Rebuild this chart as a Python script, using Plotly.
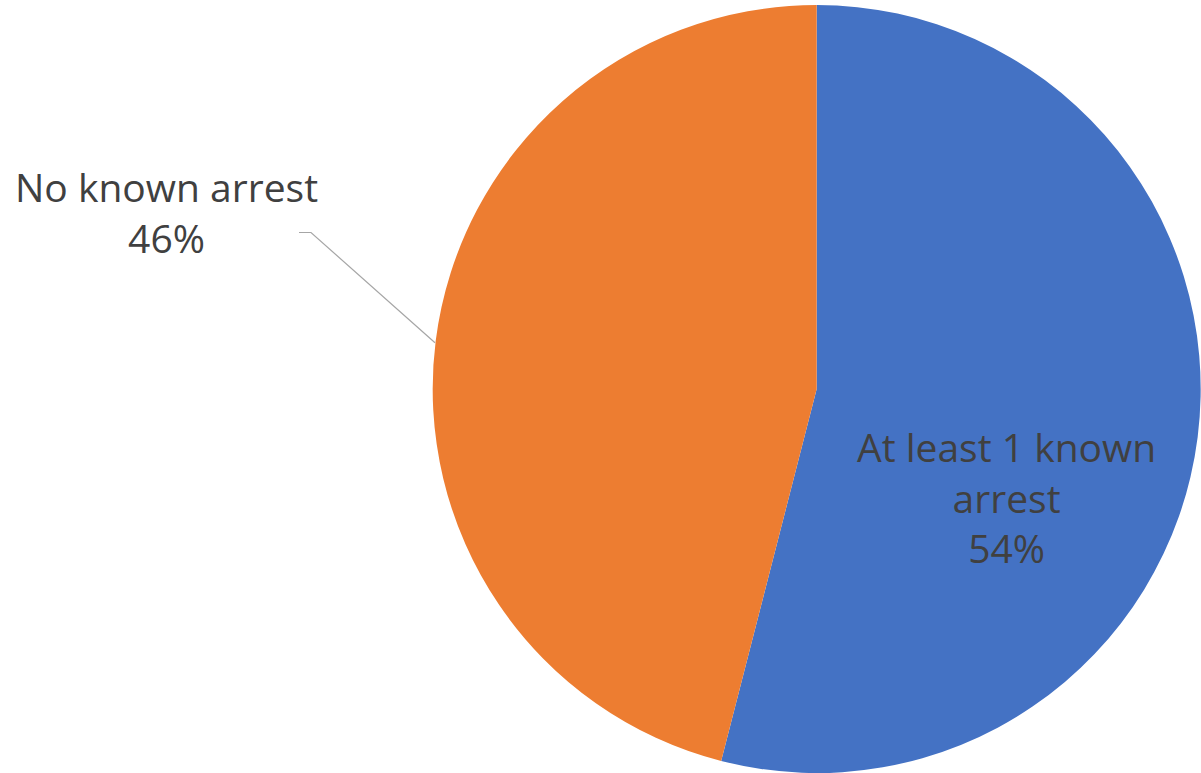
import plotly.graph_objects as go

labels = ["At least 1 known arrest", "No known arrest"]
values = [54, 46]
colors = ["#4472C4", "#ED7D31"]
label_text = ["At least 1 known<br>arrest", "No known arrest"]

total = sum(values)
pcts = [round(v / total * 100) for v in values]

W, H = 1201, 773

fig = go.Figure(go.Pie(
    labels=labels,
    values=values,
    marker=dict(colors=colors, line=dict(width=0)),
    sort=False,
    direction="clockwise",
    rotation=0,
    textinfo="none",
    hoverinfo="label+percent",
    domain=dict(x=[0.36, 1.0], y=[0, 1]),
    showlegend=False,
))

font = dict(family="'Open Sans', 'Noto Sans', sans-serif", size=39, color="#404040")

# inside label for first slice
fig.add_annotation(
    x=1006 / W, y=1 - 495 / H, xref="paper", yref="paper",
    text=f"{label_text[0]}<br>{pcts[0]}%", showarrow=False,
    font=font, align="center", xanchor="center", yanchor="middle",
)
# outside label for second slice
fig.add_annotation(
    x=166 / W, y=1 - 208 / H, xref="paper", yref="paper",
    text=f"{label_text[1]}<br>{pcts[1]}%", showarrow=False,
    font=font, align="center", xanchor="center", yanchor="middle",
)
# leader line
fig.add_shape(
    type="path", xref="paper", yref="paper",
    path=f"M {299/W} {1-229/H} L {311/W} {1-229/H} L {435/W} {1-340/H}",
    line=dict(color="#A6A6A6", width=1.2),
)

fig.update_layout(
    width=W, height=H,
    margin=dict(l=0, r=0, t=5, b=0),
    paper_bgcolor="white",
    plot_bgcolor="white",
)

fig.write_html("out.html", config={"displayModeBar": False},
               post_script="document.body.style.margin='0';")
